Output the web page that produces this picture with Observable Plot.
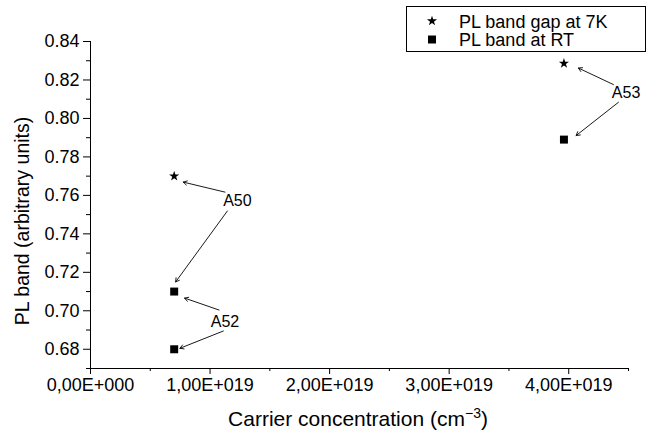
<!DOCTYPE html>
<html>
<head>
<meta charset="utf-8">
<script src="https://cdn.jsdelivr.net/npm/d3@7"></script>
<script src="https://cdn.jsdelivr.net/npm/@observablehq/plot@0.6"></script>
<style>
  html, body { margin: 0; padding: 0; background: white; }
  #chart { width: 646px; height: 437px; }
</style>
</head>
<body>
<div id="chart"></div>
<script>
// ---- data ----
const seriesNames = ["PL band gap at 7K", "PL band at RT"];
const sampleNames = ["A50", "A50", "A52", "A53", "A53"];
const carrier = [0.70e19, 0.70e19, 0.70e19, 3.96e19, 3.96e19];
const plBand = [0.770, 0.710, 0.680, 0.8286, 0.789];
const seriesOf = [0, 1, 1, 0, 1];

// annotation labels
const labelNames = ["A50", "A52", "A53"];
const labelX = [1.229e19, 1.125e19, 4.48e19];
const labelY = [0.7571, 0.6943, 0.8132];

// annotation arrows (from label to point)
const arrowX1 = [1.125e19, 1.145e19, 1.075e19, 1.111e19, 4.374e19, 4.416e19];
const arrowY1 = [0.7617, 0.7519, 0.7004, 0.6895, 0.8176, 0.8084];
const arrowX2 = [0.776e19, 0.712e19, 0.787e19, 0.748e19, 4.081e19, 4.062e19];
const arrowY2 = [0.7669, 0.715, 0.7066, 0.6805, 0.8262, 0.7911];

// ticks
const xTicks = [0, 1e19, 2e19, 3e19, 4e19];
const xTickLabels = ["0,00E+000", "1,00E+019", "2,00E+019", "3,00E+019", "4,00E+019"];
const xMinorTicks = [0.5e19, 1.5e19, 2.5e19, 3.5e19, 4.5e19];
const yTicks = [0.68, 0.70, 0.72, 0.74, 0.76, 0.78, 0.80, 0.82, 0.84];
const yTickLabels = ["0.68", "0.70", "0.72", "0.74", "0.76", "0.78", "0.80", "0.82", "0.84"];
const yMinorTicks = [0.67, 0.69, 0.71, 0.73, 0.75, 0.77, 0.79, 0.81, 0.83];

const xTitle = "Carrier concentration (cm";
const xTitleSup = "−3";
const xTitleEnd = ")";
const yTitle = "PL band (arbitrary units)";

// ---- build tables ----
const points = carrier.map((c, i) => ({x: c, y: plBand[i], sample: sampleNames[i], series: seriesNames[seriesOf[i]]}));
const labels = labelNames.map((n, i) => ({name: n, x: labelX[i], y: labelY[i]}));
const arrows = arrowX1.map((v, i) => ({x1: v, y1: arrowY1[i], x2: arrowX2[i], y2: arrowY2[i]}));
const symbolFor = s => s === seriesNames[0] ? "star" : "square";

const font = "'Liberation Sans', Arial, Helvetica, sans-serif";

const plot = Plot.plot({
  width: 646,
  height: 437,
  marginLeft: 90,
  marginRight: 18,
  marginTop: 41,
  marginBottom: 69,
  style: {fontFamily: font, fontSize: "18px", color: "black", background: "white", overflow: "visible"},
  x: {domain: [0, 4.5e19]},
  y: {domain: [0.67, 0.84]},
  marks: [
    Plot.axisX(xTicks, {tickSize: 6, tickPadding: 4, tickFormat: d => xTickLabels[xTicks.indexOf(d)], label: null, fontSize: 18}),
    Plot.axisX(xMinorTicks, {tickSize: 3, tickFormat: () => "", label: null}),
    Plot.axisY(yTicks, {tickSize: 7, tickPadding: 4, tickFormat: d => yTickLabels[yTicks.indexOf(d)], label: null, fontSize: 18}),
    Plot.axisY(yMinorTicks, {tickSize: 4, tickFormat: () => "", label: null}),
    Plot.ruleX([0], {stroke: "black", strokeWidth: 1}),
    Plot.ruleY([0.67], {stroke: "black", strokeWidth: 1}),
    Plot.arrow(arrows, {x1: "x1", y1: "y1", x2: "x2", y2: "y2", stroke: "black", strokeWidth: 0.9, headLength: 7}),
    Plot.dot(points.filter(d => symbolFor(d.series) === "star"), {x: "x", y: "y", symbol: "star", r: 3.2, fill: "black", stroke: "none"}),
    Plot.dot(points.filter(d => symbolFor(d.series) === "square"), {x: "x", y: "y", symbol: "square", r: 4.5, fill: "black", stroke: "none"}),
    Plot.text(labels, {x: "x", y: "y", text: "name", fontSize: 16, fill: "black"})
  ]
});

const svg = d3.select(plot);

// axis titles
const xt = svg.append("text")
  .attr("x", 358).attr("y", 426)
  .attr("text-anchor", "middle")
  .style("font-family", font).style("font-size", "21px").attr("fill", "black");
xt.append("tspan").text(xTitle);
xt.append("tspan").attr("dy", -8).style("font-size", "14px").text(xTitleSup);
xt.append("tspan").attr("dy", 8).text(xTitleEnd);

svg.append("text")
  .attr("transform", "translate(29,221) rotate(-90)")
  .attr("text-anchor", "middle")
  .style("font-family", font).style("font-size", "19.5px").attr("fill", "black")
  .text(yTitle);

// legend
const lg = svg.append("g");
lg.append("rect").attr("x", 406.5).attr("y", 6.5).attr("width", 239).attr("height", 45)
  .attr("fill", "white").attr("stroke", "black").attr("stroke-width", 1);
seriesNames.forEach((name, i) => {
  const cy = 21 + i * 18.5;
  const sym = i === 0 ? d3.symbol(d3.symbolStar, Math.PI * 3.2 * 3.2) : d3.symbol(d3.symbolSquare, Math.PI * 4.5 * 4.5);
  lg.append("path").attr("d", sym()).attr("transform", `translate(432,${cy})`).attr("fill", "black");
  lg.append("text").attr("x", 459).attr("y", cy + 6.5).attr("text-anchor", "start")
    .style("font-family", font).style("font-size", "18px").attr("fill", "black").text(name);
});

document.getElementById("chart").appendChild(plot);
</script>
</body>
</html>
